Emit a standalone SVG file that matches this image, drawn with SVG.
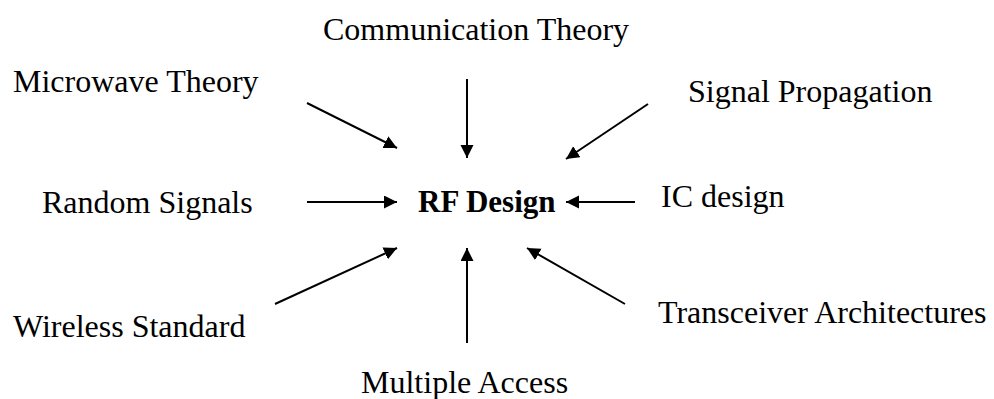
<svg xmlns="http://www.w3.org/2000/svg" width="994" height="399" viewBox="0 0 994 399">
<style>
text{font-family:"Liberation Serif","Times New Roman",serif;font-size:32px;fill:#000}
.main{font-weight:bold;font-size:31px}
.c line{stroke:#000;stroke-width:2;marker-end:url(#ah)}
</style>
<defs>
<marker id="ah" markerUnits="userSpaceOnUse" markerWidth="14" markerHeight="14" refX="13" refY="6.5" orient="auto">
<path d="M0,0 L13,6.5 L0,13 z" fill="#000"/>
</marker>
</defs>
<rect width="994" height="399" fill="#fff"/>
<g id="n-rf"><text class="main" x="418" y="212">RF Design</text></g>
<g id="n-comm"><text x="323" y="40">Communication Theory</text></g>
<g id="n-micro"><text x="13" y="92">Microwave Theory</text></g>
<g id="n-signal"><text x="688" y="102">Signal Propagation</text></g>
<g id="n-random"><text x="42" y="213">Random Signals</text></g>
<g id="n-ic"><text x="661" y="207">IC design</text></g>
<g id="n-wireless"><text x="13" y="337">Wireless Standard</text></g>
<g id="n-trans"><text x="658" y="323">Transceiver Architectures</text></g>
<g id="n-multi"><text x="361" y="393">Multiple Access</text></g>
<g id="connectors" class="c">
<line x1="307" y1="103" x2="397" y2="148"/>
<line x1="467" y1="79" x2="467" y2="158"/>
<line x1="648" y1="104" x2="566" y2="159"/>
<line x1="307" y1="202" x2="397" y2="202"/>
<line x1="635" y1="202" x2="566" y2="202"/>
<line x1="275" y1="304" x2="397" y2="248"/>
<line x1="467" y1="343" x2="467" y2="248"/>
<line x1="625" y1="304" x2="527" y2="248"/>
</g>
</svg>
